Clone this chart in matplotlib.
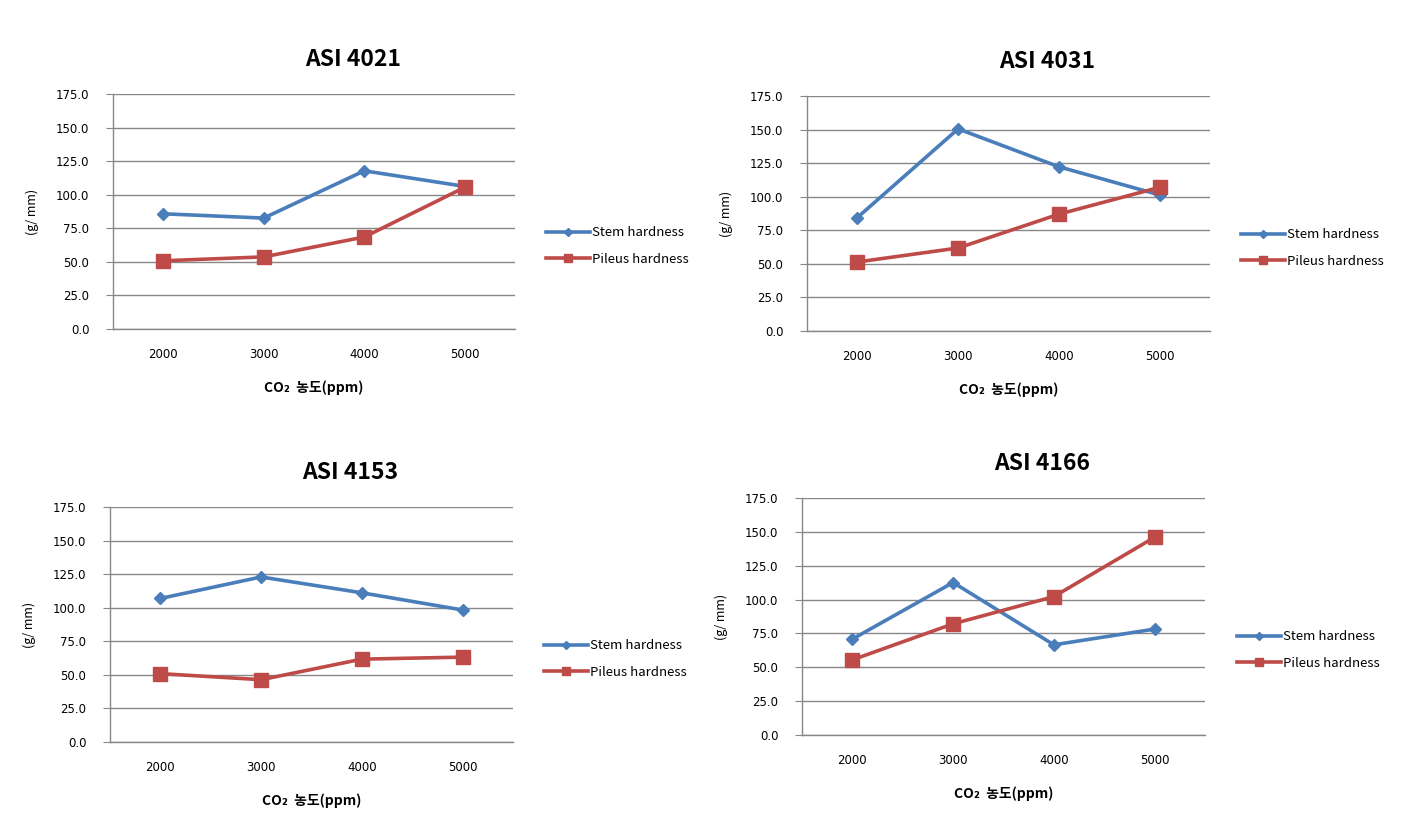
import matplotlib
matplotlib.use('Agg')
import matplotlib.pyplot as plt

plt.rcParams['font.family'] = ['Noto Sans CJK KR', 'DejaVu Sans']

# data
co2 = ['2000', '3000', '4000', '5000']
titles = ['ASI 4021', 'ASI 4031', 'ASI 4153', 'ASI 4166']
stem = [
    [85.8, 82.6, 117.8, 106.2],
    [84.5, 150.5, 122.3, 101.3],
    [106.9, 122.9, 111.1, 98.3],
    [70.8, 112.6, 66.6, 78.2],
]
pileus = [
    [50.8, 53.7, 68.5, 105.5],
    [51.4, 61.8, 87.0, 107.0],
    [50.9, 46.4, 61.7, 63.2],
    [55.5, 82.1, 102.2, 146.0],
]
yticks = [0, 25, 50, 75, 100, 125, 150, 175]

W, H = 1423, 813
# plot areas in pixels: left, top, right, bottom
boxes = [
    (113, 94, 515, 329),
    (807, 96, 1210, 331),
    (110, 507, 513, 742),
    (802, 498, 1205, 735),
]
# legend centre (x, y) in pixels
leg_pos = [(541, 246), (1236, 248), (539, 659), (1232, 650)]

blue = '#4A7EBB'
red = '#BE4B48'
grid_c = '#878787'

fig = plt.figure(figsize=(W / 100, H / 100), dpi=100)

for i in range(4):
    l, t, r, b = boxes[i]
    ax = fig.add_axes([l / W, 1 - b / H, (r - l) / W, (b - t) / H])
    x = range(len(co2))
    ax.plot(x, stem[i], color=blue, lw=2.6, marker='D', ms=6.5,
            label='Stem hardness', solid_joinstyle='round')
    ax.plot(x, pileus[i], color=red, lw=2.6, marker='s', ms=10,
            label='Pileus hardness', solid_joinstyle='round')
    ax.set_xlim(-0.5, 3.5)
    ax.set_ylim(0, 175)
    ax.set_yticks(yticks)
    ax.set_yticklabels(['%.1f' % v for v in yticks], fontsize=8.5, family='DejaVu Sans')
    ax.set_xticks(list(x))
    ax.set_xticklabels(co2, fontsize=8.5, family='DejaVu Sans')
    ax.tick_params(axis='x', length=0, pad=14)
    ax.tick_params(axis='y', length=5, color=grid_c, pad=12)
    ax.yaxis.grid(True, color=grid_c, lw=1)
    ax.set_axisbelow(True)
    for s in ['top', 'right']:
        ax.spines[s].set_visible(False)
    for s in ['left', 'bottom']:
        ax.spines[s].set_color(grid_c)
        ax.spines[s].set_linewidth(1)
    ax.set_title(titles[i], fontsize=16.5, fontweight='bold', pad=20, x=0.597)
    ax.set_ylabel('(g/ mm)', fontsize=9, labelpad=12)
    ax.set_xlabel('CO₂  농도(ppm)', fontsize=10, fontweight='bold', labelpad=14)
    lx, ly = leg_pos[i]
    ax.legend(loc='center left',
              bbox_to_anchor=((lx - l) / (r - l), (b - ly) / (b - t)),
              frameon=False, fontsize=9.5, handlelength=3.3,
              handletextpad=0.15, labelspacing=1.0, markerscale=0.6,
              borderaxespad=0)

fig.savefig('out.png', dpi=100)
